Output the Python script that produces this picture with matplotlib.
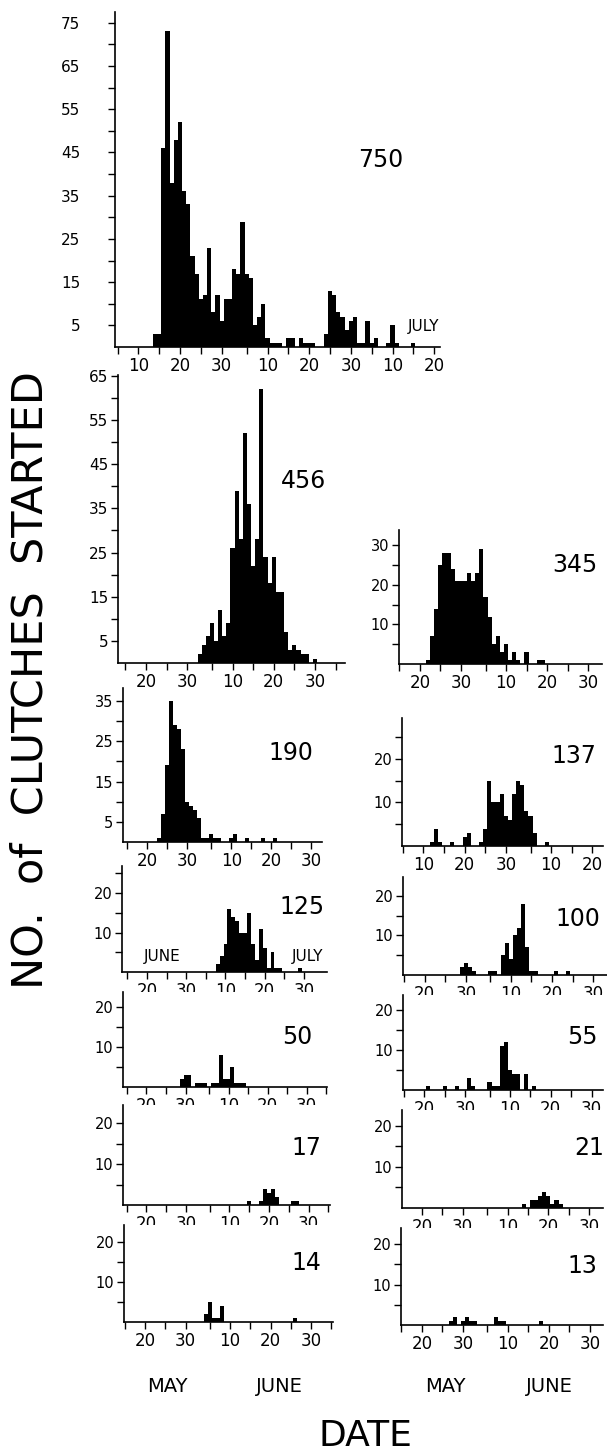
import matplotlib.pyplot as plt

W, H = 607, 1451  # output size in pixels

# Daily counts of clutches started. Day numbers run on from 1 May
# (1 June = 32); the 125 panel runs on from 1 June instead.
start_750 = 14
counts_750 = [3, 3, 46, 73, 38, 48, 52, 36, 33, 21, 17, 11, 12, 23, 8, 12, 6,
              11, 11, 18, 17, 29, 17, 16, 5, 7, 10, 2, 1, 1, 1, 0, 2, 2, 0, 2,
              1, 1, 1, 0, 0, 3, 13, 12, 8, 7, 4, 6, 7, 1, 1, 6, 1, 2, 0, 0, 1,
              5, 1, 0, 0, 0, 1]
start_456 = 33
counts_456 = [2, 4, 6, 9, 5, 12, 6, 9, 26, 39, 28, 52, 36, 22, 28, 62, 24, 18,
              24, 16, 16, 7, 3, 4, 3, 2, 2, 0, 1]
start_345 = 22
counts_345 = [1, 7, 14, 25, 28, 28, 24, 21, 21, 21, 23, 21, 23, 29, 17, 12, 5,
              7, 3, 5, 1, 3, 1, 0, 3, 0, 0, 1, 1]
start_190 = 23
counts_190 = [1, 7, 19, 35, 29, 28, 23, 10, 9, 8, 6, 1, 1, 2, 1, 1, 0, 0, 1, 2,
              0, 0, 1, 0, 0, 0, 1, 0, 0, 1]
start_137 = 12
counts_137 = [1, 4, 1, 0, 0, 1, 0, 0, 2, 3, 0, 0, 1, 4, 15, 10, 10, 12, 7, 6,
              12, 15, 14, 8, 7, 3, 0, 0, 1]
start_125 = 38
counts_125 = [2, 4, 7, 16, 14, 13, 10, 10, 15, 7, 3, 11, 6, 1, 5, 1, 1, 0, 0,
              0, 0, 1]
start_100 = 29
counts_100 = [2, 3, 2, 1, 0, 0, 0, 1, 1, 0, 5, 8, 4, 10, 12, 18, 7, 1, 1, 0, 0,
              0, 0, 1, 0, 0, 1]
start_50 = 29
counts_50 = [2, 3, 3, 0, 1, 1, 1, 0, 1, 1, 8, 2, 2, 5, 1, 1, 1]
start_55 = 21
counts_55 = [1, 0, 0, 0, 1, 0, 0, 1, 0, 0, 3, 1, 0, 0, 0, 2, 1, 1, 11, 12, 5, 4,
             4, 0, 4, 0, 1]
start_17 = 46
counts_17 = [1, 0, 0, 1, 4, 3, 4, 2, 0, 0, 0, 1, 1]
start_21 = 45
counts_21 = [1, 0, 2, 2, 3, 4, 3, 1, 2, 1]
start_14 = 35
counts_14 = [2, 5, 1, 1, 4] + [0] * 17 + [1]
start_13 = 27
counts_13 = [1, 2, 0, 1, 2, 1, 1, 0, 0, 0, 0, 2, 1, 1] + [0] * 8 + [1]

MAY_JUNE_JULY = (31, 30, 31)
JUNE_JULY = (30, 31)

fig = plt.figure(figsize=(W / 100, H / 100), dpi=100)
plt.rcParams['font.family'] = 'DejaVu Sans'


def month_ticks(month_lengths, lo, hi):
    """Ticks every 5 days of each month, labelled on the 10s."""
    positions, labels = [], []
    offset = 0
    for n in month_lengths:
        for d in range(5, n + 1, 5):
            if lo <= offset + d <= hi:
                positions.append(offset + d)
                labels.append(str(d) if d % 10 == 0 else '')
        offset += n
    return positions, labels


def draw_panel(box, xlim, ytop, ylabels, months, start, counts, total, txy):
    left, right, top, bottom = box
    ax = fig.add_axes([left / W, 1 - bottom / H,
                       (right - left) / W, (bottom - top) / H])
    days = range(start, start + len(counts))
    ax.bar(days, counts, width=1.0, color='black', linewidth=0)
    ax.set_xlim(*xlim)
    ax.set_ylim(0, ytop)

    xt, xl = month_ticks(months, *xlim)
    ax.set_xticks(xt)
    ax.set_xticklabels(xl)
    yt = list(range(5, int(ytop) + 1, 5))
    ax.set_yticks(yt)
    ax.set_yticklabels([str(v) if v in ylabels else '' for v in yt])

    for side in ('top', 'right'):
        ax.spines[side].set_visible(False)
    for side in ('left', 'bottom'):
        ax.spines[side].set_linewidth(1.2)
    ax.tick_params(direction='out', length=5, width=1.0, pad=2)
    ax.tick_params(axis='x', labelsize=12)
    ax.tick_params(axis='y', labelsize=10.5)

    fig.text(txy[0] / W, 1 - txy[1] / H, str(total), fontsize=17,
             ha='center', va='center')
    return ax


odd_fives = (5, 15, 25, 35, 45, 55, 65, 75)
tens = (10, 20, 30)

ax750 = draw_panel((115, 440, 12, 347), (4.4, 82.4), 77.5, odd_fives,
                   MAY_JUNE_JULY, start_750, counts_750, 750, (381, 160))
ax750.tick_params(axis='y', pad=20, labelsize=11)
ax456 = draw_panel((118, 345, 375, 663), (13.2, 68.3), 65.2, odd_fives,
                   MAY_JUNE_JULY, start_456, counts_456, 456, (303, 481))
ax456.tick_params(axis='y', labelsize=11)
draw_panel((399, 602, 530, 664), (14.9, 64.4), 33.9, tens,
           MAY_JUNE_JULY, start_345, counts_345, 345, (575, 565))
draw_panel((123, 322, 688, 842), (13.9, 63.7), 38.2, odd_fives,
           MAY_JUNE_JULY, start_190, counts_190, 190, (291, 753))
draw_panel((402, 603, 718, 846), (4.8, 53.6), 29.4, tens,
           MAY_JUNE_JULY, start_137, counts_137, 137, (574, 756))
draw_panel((122, 327, 866, 972), (13.6, 65.9), 26.9, tens,
           JUNE_JULY, start_125, counts_125, 125, (302, 907))
draw_panel((403, 607, 877, 975), (14.7, 64.4), 24.8, tens,
           MAY_JUNE_JULY, start_100, counts_100, 100, (578, 919))
draw_panel((123, 327, 992, 1087), (14.0, 66.2), 23.7, tens,
           MAY_JUNE_JULY, start_50, counts_50, 50, (297, 1037))
draw_panel((403, 603, 995, 1090), (14.8, 63.8), 23.7, tens,
           MAY_JUNE_JULY, start_55, counts_55, 55, (582, 1037))
draw_panel((123, 330, 1105, 1205), (14.1, 66.4), 24.4, tens,
           MAY_JUNE_JULY, start_17, counts_17, 17, (306, 1148))
draw_panel((402, 603, 1110, 1208), (15.1, 64.4), 23.9, tens,
           MAY_JUNE_JULY, start_21, counts_21, 21, (589, 1148))
draw_panel((124, 333, 1225, 1322), (14.8, 66.4), 24.2, tens,
           MAY_JUNE_JULY, start_14, counts_14, 14, (306, 1263))
draw_panel((401, 603, 1228, 1325), (14.9, 64.2), 24.0, tens,
           MAY_JUNE_JULY, start_13, counts_13, 13, (582, 1266))

# month names inside panels and under the columns
fig.text(424 / W, 1 - 327 / H, 'JULY', fontsize=11, ha='center', va='center')
fig.text(162 / W, 1 - 956 / H, 'JUNE', fontsize=11, ha='center', va='center')
fig.text(308 / W, 1 - 956 / H, 'JULY', fontsize=11, ha='center', va='center')
for x, name in [(167, 'MAY'), (279, 'JUNE'), (445, 'MAY'), (549, 'JUNE')]:
    fig.text(x / W, 1 - 1386 / H, name, fontsize=14, ha='center',
             va='center')

fig.text(365 / W, 1 - 1436 / H, 'DATE', fontsize=26, ha='center',
         va='center')
fig.text(31 / W, 1 - 680 / H, 'NO.  of  CLUTCHES  STARTED', fontsize=31,
         rotation=90, ha='center', va='center')

fig.savefig('out.png', dpi=100, facecolor='white')
